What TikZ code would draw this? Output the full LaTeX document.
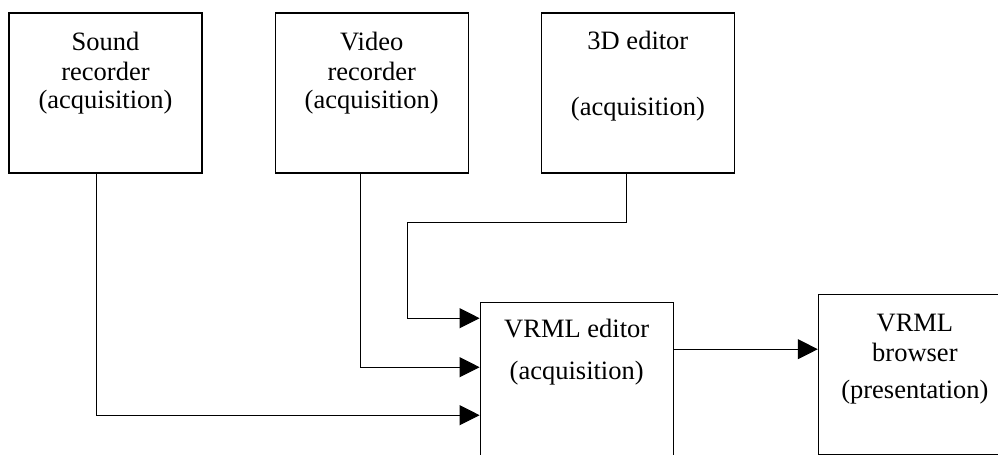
\documentclass[tikz,border=0pt]{standalone}
\usepackage{fontspec}
\setmainfont{Liberation Serif}
\usetikzlibrary{arrows.meta, positioning}

\begin{document}
\begin{tikzpicture}[x=0.5pt, y=-0.5pt, node distance=36pt,
  every node/.style={font=\fontsize{13.25}{15}\selectfont},
  unit/.style={draw, line width=0.6pt, minimum width=96.5pt, minimum height=80pt,
    inner sep=0pt, align=center, text height=47.5pt, text depth=32.5pt},
  feed/.style={line width=0.5pt, -{Triangle[length=10pt, width=10pt]}}]
\useasboundingbox (0,0) rectangle (998,455);
\clip (0,0) rectangle (998,455);

% Acquisition tools
\node (Sound) [unit] at (105.5,93) {Sound\\[0.5pt]recorder\\[-1.5pt](acquisition)};
\node (Video) [unit, right=of Sound] {Video\\[0.5pt]recorder\\[-1.5pt](acquisition)};
\node (ThreeD) [unit, right=of Video, text height=51pt, text depth=29pt] {3D editor\\[18pt](acquisition)};

% VRML chain
\node (Editor) [unit, below=64pt of Video, xshift=102.5pt, text height=38.5pt, text depth=41.5pt] {VRML editor\\[6pt](acquisition)};
\node (Browser) [unit, right=72pt of Editor, yshift=4pt, text height=52pt, text depth=28pt] {VRML\\browser\\[3.5pt](presentation)};

% Arrows
\draw[feed] ([xshift=-4.75pt]Sound.south) |- ([yshift=-16.5pt]Editor.west);
\draw[feed] ([xshift=-5.75pt]Video.south) |- ([yshift=7.5pt]Editor.west);
\draw[feed] ([xshift=-5.5pt]ThreeD.south) -- ++(0,-24.5pt)
  -| ([xshift=-36pt, yshift=32pt]Editor.west) -- ([yshift=32pt]Editor.west);
\draw[feed] ([yshift=16.5pt]Editor.east) -- ([yshift=16.5pt]Editor.east -| Browser.west);
\end{tikzpicture}
\end{document}
